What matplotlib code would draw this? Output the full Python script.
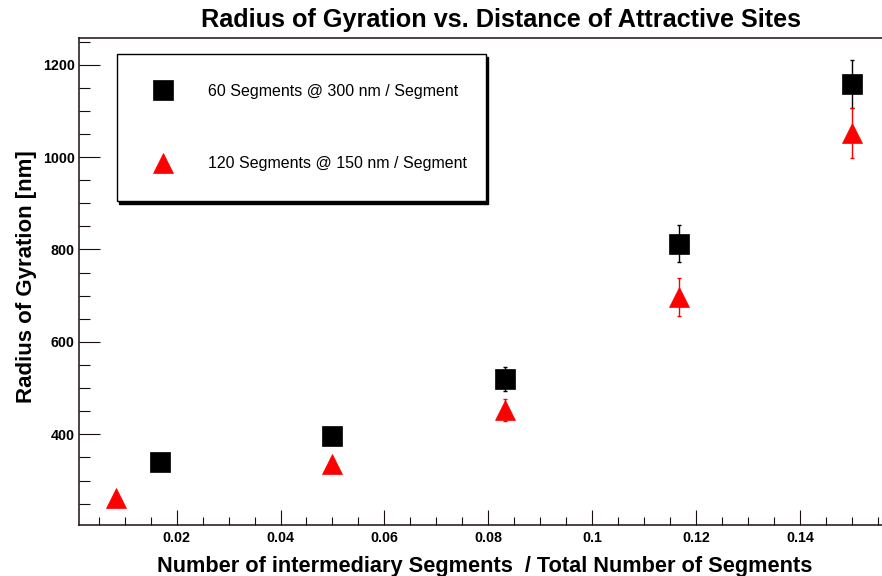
import numpy as np
import matplotlib.pyplot as plt
from matplotlib.ticker import MultipleLocator

plt.rcParams['font.family'] = ['Liberation Sans', 'DejaVu Sans']

# 60 segments @ 300 nm / segment
ratio_60 = [0.0167, 0.05, 0.0833, 0.1167, 0.15]
rg_60 = [339, 396, 520, 812, 1158]
err_60 = [10, 12, 26, 40, 51]

# 120 segments @ 150 nm / segment
ratio_120 = [0.0083, 0.05, 0.0833, 0.1167, 0.15]
rg_120 = [263, 336, 453, 697, 1053]
err_120 = [8, 10, 24, 42, 54]

labels = ['60 Segments @ 300 nm / Segment', '120 Segments @ 150 nm / Segment']

W, H = 882, 576
fig = plt.figure(figsize=(W / 100, H / 100), dpi=100)
ax = fig.add_axes([79 / W, (H - 525) / H, (W - 79) / W, (525 - 38.3) / H])

ax.errorbar(ratio_60, rg_60, yerr=err_60, fmt='none', ecolor='black',
            elinewidth=1.0, capsize=1.2, capthick=1.0, zorder=2)
ax.errorbar(ratio_120, rg_120, yerr=err_120, fmt='none', ecolor='red',
            elinewidth=1.0, capsize=1.2, capthick=1.0, zorder=2)
ax.plot(ratio_60, rg_60, ls='none', marker='s', ms=14.4, color='black',
        mec='black', mew=0.5, label=labels[0], zorder=3)
ax.plot(ratio_120, rg_120, ls='none', marker='^', ms=14.4, color='red',
        mec='red', mew=0.5, label=labels[1], zorder=3)

ax.set_xlim(0.0012, 0.1558)
ax.set_ylim(203.7, 1257)

ax.xaxis.set_major_locator(MultipleLocator(0.02))
ax.xaxis.set_minor_locator(MultipleLocator(0.005))
ax.yaxis.set_major_locator(MultipleLocator(200))
ax.yaxis.set_minor_locator(MultipleLocator(50))
ax.xaxis.set_major_formatter(lambda v, p: f'{v:g}')

ax.spines['right'].set_visible(False)
for s in ['left', 'bottom', 'top']:
    ax.spines[s].set_linewidth(1.1)
    ax.spines[s].set_color('#1a1010')

ax.tick_params(axis='both', which='both', direction='in', top=False, right=False,
               width=0.8, color='#1a1010')
ax.tick_params(axis='y', which='major', length=15, pad=3)
ax.tick_params(axis='y', which='minor', length=8)
ax.tick_params(axis='x', which='major', length=11, pad=4)
ax.tick_params(axis='x', which='minor', length=5.8)
for lab in ax.get_xticklabels() + ax.get_yticklabels():
    lab.set_fontsize(10.3)
    lab.set_fontweight('bold')

fig.text(501.5 / W, 1 - 26.7 / H, 'Radius of Gyration vs. Distance of Attractive Sites',
         ha='center', va='baseline', fontsize=18.2, fontweight='bold')
fig.text(485 / W, 1 - 571.7 / H, 'Number of intermediary Segments  / Total Number of Segments',
         ha='center', va='baseline', fontsize=15.7, fontweight='bold')
fig.text(32 / W, 1 - 277 / H, 'Radius of Gyration [nm]', rotation=90, rotation_mode='anchor',
         ha='center', va='baseline', fontsize=16, fontweight='bold')

# legend box ~ x 117..486 px, y 54..198 px
leg = ax.legend(loc='upper left', mode='expand',
                bbox_to_anchor=(116.7 / W, 1 - 198 / H, 369 / W, 144 / H),
                bbox_transform=fig.transFigure, borderaxespad=0, fontsize=11.5,
                numpoints=1, borderpad=1.875, handlelength=2.0,
                handletextpad=1.84, labelspacing=3.59, fancybox=False,
                edgecolor='black', framealpha=1,
                shadow={'color': 'black', 'alpha': 1})
leg.get_frame().set_linewidth(1.0)

fig.savefig('out.png', dpi=100)
